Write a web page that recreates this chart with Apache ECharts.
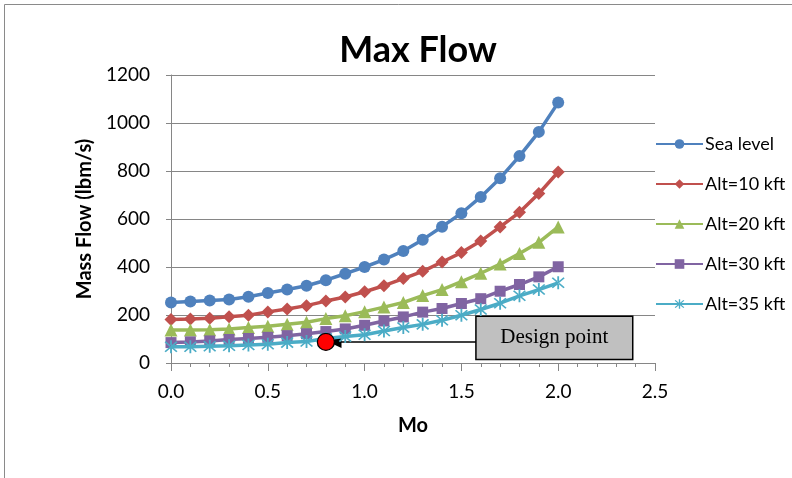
<!DOCTYPE html>
<html>
<head>
<meta charset="utf-8">
<script src="https://cdn.jsdelivr.net/npm/echarts@6/dist/echarts.min.js"></script>
<style>
  html, body { margin: 0; padding: 0; background: #fff; }
  #chart { width: 792px; height: 478px; }
</style>
</head>
<body>
<div id="chart"></div>
<script>
// Flight Mach number
const mach = [0.0, 0.1, 0.2, 0.3, 0.4, 0.5, 0.6, 0.7, 0.8, 0.9, 1.0,
              1.1, 1.2, 1.3, 1.4, 1.5, 1.6, 1.7, 1.8, 1.9, 2.0];

// Maximum mass flow (lbm/s) at each altitude
const seaLevel = [252, 256, 260, 265, 276, 292, 306, 322, 345, 372, 400,
                  431, 467, 514, 568, 624, 692, 770, 862, 963, 1085];
const alt10 = [181, 183, 186, 193, 199, 213, 225, 239, 258, 275, 297,
               322, 352, 382, 421, 460, 508, 567, 628, 706, 796];
const alt20 = [137, 137, 139, 142, 148, 153, 161, 170, 185, 197, 214,
               233, 252, 281, 306, 339, 374, 412, 456, 503, 567];
const alt30 = [85, 88, 92, 98, 102, 107, 114, 122, 131, 142, 157,
               175, 192, 212, 227, 248, 268, 299, 327, 359, 401];
const alt35 = [68, 68, 70, 72, 75, 78, 85, 90, 102, 110, 118,
               133, 148, 161, 178, 199, 223, 249, 280, 306, 334];

const seriesNames = ['Sea level', 'Alt=10 kft', 'Alt=20 kft', 'Alt=30 kft', 'Alt=35 kft'];

// Design point and its callout box (data coordinates)
const designPoint = [0.8, 88];
const calloutText = 'Design point';
const calloutBox = [[1.575, 195], [2.385, 15]];
const arrowTipX = 0.847;

const FONT = 'Lato, "Open Sans", sans-serif';

const asterisk = 'path://M-1.2,-10L1.2,-10L1.2,10L-1.2,10Z' +
  'M-8.5,-6.9L6.9,8.5L8.5,6.9L-6.9,-8.5Z' +
  'M6.9,-8.5L8.5,-6.9L-6.9,8.5L-8.5,6.9Z';

const styles = [
  { color: '#4F81BD', symbol: 'circle', size: 12 },
  { color: '#C0504D', symbol: 'diamond', size: 13 },
  { color: '#9BBB59', symbol: 'triangle', size: 13 },
  { color: '#8064A2', symbol: 'rect', size: 11 },
  { color: '#4BACC6', symbol: asterisk, size: 13 }
];
const values = [seaLevel, alt10, alt20, alt30, alt35];

const series = values.map((v, i) => ({
  name: seriesNames[i],
  type: 'line',
  data: mach.map((m, j) => [m, v[j]]),
  symbol: styles[i].symbol,
  symbolSize: styles[i].size,
  showAllSymbol: true,
  lineStyle: { color: styles[i].color, width: 3.5 },
  itemStyle: { color: styles[i].color, borderWidth: 0 },
  emphasis: { disabled: true },
  z: 2 + i
}));

// Callout: box with text, arrow to the design point, and the red marker
series.push({
  name: 'design',
  type: 'scatter',
  data: [designPoint],
  symbol: 'circle',
  symbolSize: 17,
  itemStyle: { color: '#FF0000', borderColor: '#000', borderWidth: 1.3, opacity: 1 },
  z: 20,
  silent: true,
  markLine: {
    silent: true,
    symbol: ['none', 'triangle'],
    symbolSize: [12, 13],
    lineStyle: { color: '#000', width: 1.5, type: 'solid' },
    label: { show: false },
    data: [[{ coord: [calloutBox[0][0], designPoint[1]] }, { coord: [arrowTipX, designPoint[1]] }]]
  },
  markArea: {
    silent: true,
    itemStyle: { color: '#C0C0C0', borderColor: '#000', borderWidth: 1.5, opacity: 1 },
    label: {
      show: true, position: 'inside', color: '#000',
      fontFamily: '"Liberation Serif", "Times New Roman", serif', fontSize: 21
    },
    data: [[{ name: calloutText, coord: calloutBox[0] }, { coord: calloutBox[1] }]]
  }
});

const chart = echarts.init(document.getElementById('chart'), null, { renderer: 'canvas' });
chart.setOption({
  animation: false,
  backgroundColor: '#fff',
  textStyle: { fontFamily: FONT },
  graphic: [{
    type: 'rect', silent: true, z: -1,
    shape: { x: 4.5, y: 4.5, width: 820, height: 520 },
    style: { fill: 'none', stroke: '#8a8a8a', lineWidth: 1 }
  }],
  title: {
    text: 'Max Flow',
    left: 413, top: 27, textAlign: 'center',
    textStyle: { fontFamily: FONT, fontWeight: 'bold', fontSize: 36, color: '#000' }
  },
  legend: {
    orient: 'vertical',
    left: 655, top: 135,
    padding: 0,
    itemGap: 22, itemWidth: 47, itemHeight: 12,
    data: seriesNames,
    textStyle: { fontFamily: FONT, fontSize: 18, color: '#000', padding: [0, 0, 0, -3] }
  },
  grid: { left: 171, right: 137, top: 75, bottom: 115 },
  xAxis: {
    type: 'value', min: 0, max: 2.5, interval: 0.5,
    name: 'Mo', nameLocation: 'middle', nameGap: 53,
    nameTextStyle: { fontFamily: FONT, fontWeight: 'bold', fontSize: 20, color: '#000' },
    axisLine: { show: true, lineStyle: { color: '#868686', width: 1 } },
    axisTick: { show: true, length: 8, lineStyle: { color: '#868686' } },
    minorTick: { show: true, splitNumber: 5, length: 4, lineStyle: { color: '#868686' } },
    splitLine: { show: false },
    axisLabel: {
      margin: 19, fontFamily: FONT, fontSize: 19, color: '#000',
      formatter: v => v.toFixed(1)
    }
  },
  yAxis: {
    type: 'value', min: 0, max: 1200, interval: 200,
    name: 'Mass Flow (lbm/s)', nameLocation: 'middle', nameGap: 74, nameRotate: 90,
    nameTextStyle: { fontFamily: FONT, fontWeight: 'bold', fontSize: 20, color: '#000' },
    axisLine: { show: true, lineStyle: { color: '#868686', width: 1 } },
    axisTick: { show: true, length: 5, lineStyle: { color: '#868686' } },
    splitLine: { show: true, lineStyle: { color: '#868686', width: 1 } },
    axisLabel: {
      margin: 21, fontFamily: FONT, fontSize: 19, color: '#000',
      formatter: v => String(v)
    }
  },
  series: series
});
</script>
</body>
</html>
